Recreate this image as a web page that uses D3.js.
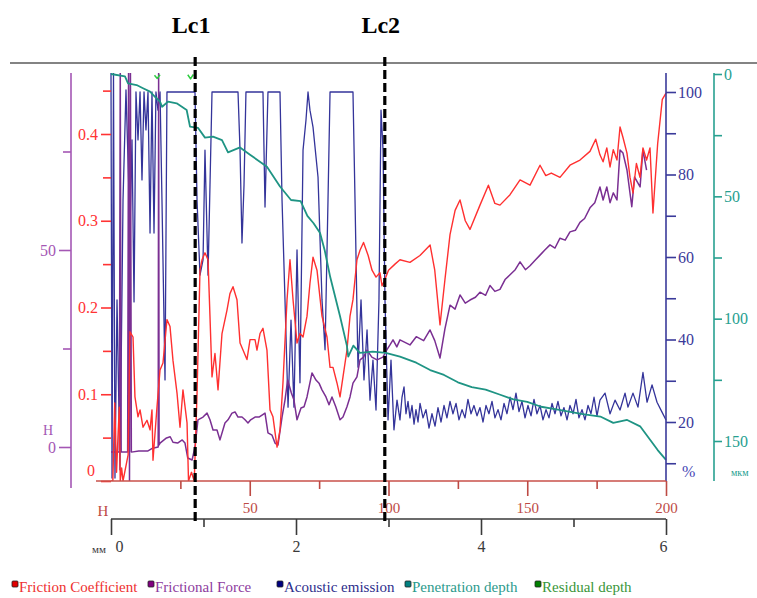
<!DOCTYPE html>
<html>
<head>
<meta charset="utf-8">
<script src="https://cdn.jsdelivr.net/npm/d3@7"></script>
<style>
  body { margin: 0; background: #fff; }
  svg text { font-family: "Liberation Serif", "Times New Roman", serif; }
</style>
</head>
<body>
<div id="chart"></div>
<script>
// ---- data (x in mm along the scratch) ----
const frictionCoef = [
  [0, 0], [0.02, 0], [0.04, 0.09], [0.06, 0.01], [0.075, 0.05], [0.09, 0.085], [0.1, 0], [0.115, 0.015],
  [0.13, 0], [0.185, 0.03], [0.205, 0.172], [0.238, 0.166], [0.259, 0.097], [0.292, 0.074], [0.314, 0.082],
  [0.346, 0.062], [0.389, 0.07], [0.422, 0.059], [0.443, 0.082], [0.454, 0.024], [0.497, 0.085], [0.53, 0.128],
  [0.562, 0.136], [0.605, 0.186], [0.638, 0.178], [0.67, 0.139], [0.714, 0.101], [0.746, 0.062], [0.778, 0.105],
  [0.822, 0.067], [0.838, 0], [0.87, 0.01], [0.9, 0], [0.93, 0.1], [0.962, 0.243], [0.984, 0.255], [1.016, 0.263],
  [1.049, 0.255], [1.07, 0.19], [1.092, 0.12], [1.124, 0.147], [1.157, 0.105], [1.2, 0.17], [1.254, 0.197],
  [1.286, 0.216], [1.319, 0.224], [1.362, 0.209], [1.395, 0.159], [1.427, 0.151], [1.47, 0.14], [1.503, 0.163],
  [1.557, 0.163], [1.578, 0.151], [1.611, 0.17], [1.643, 0.176], [1.686, 0.151], [1.719, 0.082], [1.751, 0.074],
  [1.795, 0.039], [1.827, 0.059], [1.859, 0.113], [1.903, 0.209], [1.935, 0.255], [1.968, 0.209], [2.011, 0.159],
  [2.043, 0.17], [2.076, 0.166], [2.119, 0.19], [2.151, 0.228], [2.184, 0.258], [2.227, 0.243], [2.281, 0.19],
  [2.335, 0.166], [2.368, 0.131], [2.4, 0.131], [2.443, 0.113], [2.476, 0.097], [2.508, 0.12], [2.551, 0.151],
  [2.584, 0.19], [2.616, 0.209], [2.659, 0.255], [2.692, 0.266], [2.73, 0.275], [2.78, 0.26], [2.822, 0.243],
  [2.865, 0.235], [2.908, 0.24], [2.93, 0.225], [2.96, 0.232], [3.0, 0.243], [3.07, 0.25], [3.124, 0.255],
  [3.232, 0.252], [3.34, 0.26], [3.45, 0.272], [3.5, 0.243], [3.557, 0.18], [3.61, 0.232], [3.665, 0.284],
  [3.72, 0.312], [3.773, 0.324], [3.83, 0.3], [3.881, 0.29], [3.989, 0.318], [4.08, 0.341], [4.15, 0.32],
  [4.205, 0.318], [4.314, 0.33], [4.422, 0.347], [4.53, 0.341], [4.638, 0.364], [4.7, 0.352], [4.76, 0.355],
  [4.854, 0.35], [4.962, 0.364], [5.07, 0.37], [5.178, 0.38], [5.24, 0.394], [5.286, 0.376], [5.32, 0.368],
  [5.36, 0.384], [5.395, 0.362], [5.43, 0.382], [5.47, 0.37], [5.503, 0.408], [5.535, 0.396], [5.578, 0.378],
  [5.611, 0.35], [5.643, 0.332], [5.68, 0.366], [5.719, 0.35], [5.751, 0.384], [5.79, 0.37], [5.827, 0.384],
  [5.859, 0.309], [5.91, 0.389], [5.96, 0.44], [6.0, 0.447]
];

const frictionForce = [
  [0, -1.3], [0.09, -1.3], [0.1, 97], [0.11, -1.3], [0.18, -1.3], [0.19, 97], [0.2, -9], [0.21, 97], [0.22, -1.3],
  [0.3, -1], [0.4, -1], [0.45, -0.3], [0.51, 0], [0.515, 97], [0.52, 0.5], [0.53, 1], [0.6, 2.3], [0.64, 2.6],
  [0.67, 1.2], [0.72, 1], [0.77, 1.8], [0.8, 1], [0.83, -2.8], [0.877, -3.3], [0.908, 0], [0.94, 6.9],
  [0.995, 7.6], [1.038, 8.6], [1.07, 6.9], [1.103, 4.3], [1.146, 4.3], [1.178, 1.8], [1.232, 6.1], [1.265, 6.9],
  [1.308, 8.6], [1.341, 8.9], [1.373, 7.6], [1.416, 7.6], [1.449, 6.9], [1.481, 6.1], [1.51, 6.9], [1.557, 7.6],
  [1.6, 7.6], [1.633, 8.1], [1.665, 8.6], [1.697, 3.6], [1.741, 3], [1.773, 1], [1.805, 0.5], [1.849, 7.6],
  [1.881, 11.9], [1.91, 17], [1.95, 13.7], [1.978, 11.9], [2.011, 6.9], [2.054, 9.9], [2.087, 10.2],
  [2.119, 12.7], [2.173, 18.8], [2.216, 17], [2.249, 16.2], [2.281, 14.5], [2.324, 12.7], [2.357, 10.7],
  [2.389, 12.7], [2.43, 10.2], [2.476, 6.9], [2.508, 7.6], [2.551, 10.2], [2.584, 12.7], [2.616, 16.2],
  [2.659, 17.8], [2.692, 22.1], [2.73, 22.8], [2.768, 24.6], [2.82, 22.8], [2.876, 22.1], [2.94, 22.8],
  [2.98, 24.6], [3.016, 25.9], [3.049, 27.2], [3.09, 25.4], [3.124, 27.2], [3.232, 25.9], [3.3, 28],
  [3.38, 27], [3.449, 29.7], [3.5, 27], [3.557, 22.6], [3.61, 30], [3.665, 36], [3.72, 35], [3.773, 38.6],
  [3.83, 36.5], [3.881, 37.3], [3.94, 38], [3.989, 39.3], [4.05, 38.5], [4.097, 41], [4.15, 39.5], [4.205, 40],
  [4.26, 42.5], [4.314, 43.7], [4.37, 45], [4.422, 47], [4.48, 45], [4.53, 46], [4.59, 47.5], [4.638, 48.7],
  [4.69, 50], [4.746, 51.3], [4.8, 50.5], [4.854, 53], [4.91, 52.5], [4.962, 54.6], [5.02, 55], [5.07, 57],
  [5.12, 58], [5.178, 60.7], [5.23, 62], [5.286, 66], [5.32, 62.7], [5.36, 66], [5.395, 62], [5.43, 64.5],
  [5.47, 62.7], [5.503, 75.4], [5.535, 74.6], [5.578, 70.3], [5.63, 61], [5.66, 68.5], [5.72, 66],
  [5.75, 75.4], [5.79, 70.3]
];

const acousticEmission = [
  [0, 104.6], [0.011, 6.4], [0.027, 104.6], [0.043, 6.4], [0.065, 49.6], [0.097, 8.4], [0.13, 73.8],
  [0.162, 100.5], [0.184, 83.5], [0.205, 66.5], [0.227, 88.4], [0.249, 49.1], [0.27, 100], [0.292, 88.4],
  [0.314, 100], [0.335, 78.7], [0.357, 100], [0.378, 90.8], [0.4, 100], [0.422, 65.8], [0.443, 100],
  [0.465, 65.8], [0.486, 100], [0.508, 95.6], [0.53, 100], [0.551, 73.8], [0.584, 30.2], [0.605, 100],
  [0.908, 100], [0.93, 73.8], [0.962, 55.6], [0.995, 59.3], [1.016, 85.9], [1.049, 55.6], [1.092, 100],
  [1.373, 100], [1.395, 85.9], [1.416, 63.4], [1.438, 77.5], [1.459, 100], [1.643, 100], [1.665, 72.1],
  [1.697, 100], [1.827, 100], [1.849, 73.8], [1.881, 49.6], [1.914, 23.6], [1.946, 44.7], [1.978, 23.6],
  [2.011, 61.7], [2.043, 29.5], [2.076, 85.9], [2.108, 93.2], [2.13, 100], [2.151, 95.6], [2.184, 91.5],
  [2.238, 79.4], [2.281, 49.6], [2.314, 37.5], [2.346, 73.8], [2.368, 100], [2.616, 100], [2.638, 73.8],
  [2.67, 33.3], [2.703, 49.6], [2.735, 30.2], [2.768, 42.3], [2.8, 25.3], [2.832, 35], [2.865, 22.9],
  [2.897, 49.6], [2.919, 95.6], [2.941, 85.9], [2.962, 49.6], [2.995, 20.5], [3.027, 35], [3.059, 18.1],
  [3.092, 25.3], [3.124, 20.5], [3.146, 26], [3.168, 28.5], [3.189, 22], [3.211, 25], [3.232, 21],
  [3.254, 24], [3.276, 19.5], [3.297, 23], [3.319, 20], [3.341, 24.5], [3.373, 21], [3.405, 23],
  [3.438, 18.5], [3.47, 22], [3.503, 19], [3.535, 23.5], [3.568, 20], [3.6, 24], [3.632, 21], [3.665, 25],
  [3.697, 22], [3.73, 24.5], [3.762, 20.5], [3.795, 23], [3.827, 21], [3.859, 25.5], [3.892, 22], [3.924, 24],
  [3.957, 21.5], [3.989, 23.5], [4.022, 20], [4.054, 24], [4.086, 22], [4.119, 25], [4.151, 21], [4.184, 23],
  [4.216, 20.5], [4.249, 24.5], [4.281, 22], [4.314, 26], [4.346, 23], [4.378, 27], [4.411, 22.5],
  [4.443, 25], [4.476, 21], [4.508, 24], [4.541, 21.5], [4.573, 25.5], [4.605, 22], [4.638, 24],
  [4.67, 20.5], [4.703, 23], [4.735, 21], [4.768, 24.5], [4.8, 22], [4.832, 25], [4.865, 21.5], [4.897, 23.5],
  [4.93, 20.5], [4.962, 24], [4.995, 22], [5.027, 25.5], [5.059, 21], [5.092, 23], [5.124, 20.5],
  [5.157, 24], [5.189, 22], [5.222, 26], [5.254, 21.5], [5.286, 25.3], [5.341, 27], [5.395, 22],
  [5.449, 25.3], [5.503, 22.9], [5.557, 27], [5.589, 23.6], [5.643, 27], [5.697, 23.6], [5.751, 32],
  [5.795, 24.8], [5.849, 29], [5.903, 24.8], [5.957, 22.4], [6.0, 20.5]
];

const penetrationDepth = [
  [0, 0], [0.151, 1], [0.184, 3.8], [0.277, 4.5], [0.346, 5.8], [0.422, 7.2], [0.476, 9.3], [0.53, 11.3],
  [0.553, 13.4], [0.616, 11.3], [0.71, 12], [0.818, 14.7], [0.854, 21.5], [0.94, 22], [1.016, 26],
  [1.103, 25.6], [1.2, 27], [1.265, 32], [1.395, 30], [1.503, 33], [1.686, 37.9], [1.827, 46], [1.946, 51.5],
  [2.05, 52], [2.123, 58], [2.19, 61], [2.26, 65], [2.31, 72], [2.37, 83], [2.476, 99], [2.55, 111],
  [2.565, 115.5], [2.62, 111], [2.69, 114], [2.83, 113.5], [2.97, 114], [3.124, 115.5], [3.3, 118],
  [3.45, 121], [3.6, 123], [3.75, 126], [3.9, 128], [4.05, 129], [4.2, 131], [4.35, 133], [4.5, 134],
  [4.65, 136], [4.8, 137], [4.95, 138], [5.1, 139], [5.29, 140], [5.43, 142.6], [5.58, 141.4], [5.72, 144],
  [5.83, 149.6], [5.91, 153.7], [6.0, 157.7]
];

const residualDepth = [
  [[0.47, 0.5], [0.5, 1.8], [0.53, 0.3]],
  [[0.83, 0.3], [0.86, 2], [0.89, 0.2]]
];

const criticalLoads = [{ name: "Lc1", mm: 0.91 }, { name: "Lc2", mm: 2.96 }];

const coefTicks = [0, 0.1, 0.2, 0.3, 0.4], coefMinor = [0.05, 0.15, 0.25, 0.35, 0.45];
const forceTicks = [0, 50], forceMinor = [25, 75];
const aeTicks = [20, 40, 60, 80, 100], aeMinor = [10, 30, 50, 70, 90];
const depthTicks = [0, 50, 100, 150], depthMinor = [25, 75, 125];
const loadTicks = [50, 100, 150, 200], loadMinor = [25, 75, 125, 175];
const mmTicks = [0, 2, 4, 6], mmMinor = [1, 3, 5];

const legendItems = [
  { name: "Friction Coefficient", fill: "#e00000", text: "#ee3030" },
  { name: "Frictional Force", fill: "#800080", text: "#8e3c9e" },
  { name: "Acoustic emission", fill: "#000080", text: "#2e2e8c" },
  { name: "Penetration depth", fill: "#008080", text: "#2b9a8c" },
  { name: "Residual depth", fill: "#008000", text: "#3a963a" }
];

// ---- layout ----
const width = 757, height = 598;
const plot = { left: 111, right: 666, top: 73, bottom: 481 };
const plain = (d) => String(d);

const svg = d3.select("#chart").append("svg")
  .attr("width", width).attr("height", height);

const x = d3.scaleLinear().domain([0, 6]).range([plot.left, plot.right]);
const xLoad = d3.scaleLinear().domain([0, 200]).range([plot.left, plot.right]);
const yCoef = d3.scaleLinear().domain([0, 0.4]).range([481, 134]);
const yForce = d3.scaleLinear().domain([0, 50]).range([447, 250]);
const yAE = d3.scaleLinear().domain([20, 100]).range([422, 92]);
const yDepth = d3.scaleLinear().domain([0, 150]).range([74, 441]);

// top rule
svg.append("line").attr("x1", 10).attr("x2", width).attr("y1", 63).attr("y2", 63)
  .attr("stroke", "#5a5a5a").attr("stroke-width", 1.6);

svg.append("clipPath").attr("id", "clip")
  .append("rect").attr("x", plot.left - 1).attr("y", plot.top)
  .attr("width", plot.right - plot.left + 2).attr("height", plot.bottom - plot.top);

const lines = svg.append("g").attr("clip-path", "url(#clip)");

const drawLine = (data, yScale, color, w) => {
  lines.append("path")
    .datum(data)
    .attr("fill", "none")
    .attr("stroke", color)
    .attr("stroke-width", w)
    .attr("stroke-linejoin", "round")
    .attr("d", d3.line().x((d) => x(d[0])).y((d) => yScale(d[1])));
};

drawLine(acousticEmission, yAE, "#34349a", 1.3);
drawLine(frictionForce, yForce, "#7a2f92", 1.5);
drawLine(frictionCoef, yCoef, "#ff3030", 1.4);
drawLine(penetrationDepth, yDepth, "#1f9484", 1.8);
residualDepth.forEach((seg) => drawLine(seg, yDepth, "#2ecc40", 1.5));

// ---- axes ----
const styleAxis = (g, color, fontSize) => {
  g.select(".domain").remove();
  g.selectAll("line").attr("stroke", color).attr("stroke-width", 1.6);
  g.selectAll("text").attr("fill", color).style("font-size", fontSize + "px");
};

const vline = (xPos, y1, y2, color) =>
  svg.append("line").attr("x1", xPos).attr("x2", xPos).attr("y1", y1).attr("y2", y2)
    .attr("stroke", color).attr("stroke-width", 1.6);

// frictional force (purple, far left)
const purple = "#a457b4";
vline(71, plot.top, 488, purple);
svg.append("g").attr("transform", "translate(71,0)")
  .call(d3.axisLeft(yForce).tickValues(forceTicks).tickSize(12).tickPadding(3).tickFormat(plain))
  .call((g) => styleAxis(g, purple, 16));
svg.append("g").attr("transform", "translate(71,0)")
  .call(d3.axisLeft(yForce).tickValues(forceMinor).tickSize(8).tickFormat(""))
  .call((g) => styleAxis(g, purple, 16));
svg.append("text").attr("x", 48).attr("y", 435).attr("text-anchor", "middle")
  .attr("fill", purple).style("font-size", "14px").text("H");

// friction coefficient (red)
const red = "#ff3333";
svg.append("g").attr("transform", `translate(${plot.left},0)`)
  .call(d3.axisLeft(yCoef).tickValues(coefTicks).tickSize(10).tickPadding(3).tickFormat(plain))
  .call((g) => styleAxis(g, red, 16))
  .call((g) => g.selectAll(".tick text").filter((d) => d === 0).attr("y", -11).attr("x", -16));
svg.append("g").attr("transform", `translate(${plot.left},0)`)
  .call(d3.axisLeft(yCoef).tickValues(coefMinor).tickSize(8).tickFormat(""))
  .call((g) => styleAxis(g, red, 16));

// acoustic emission (blue, right)
const blue = "#3a3a9a";
vline(plot.right, plot.top, plot.bottom, blue);
svg.append("g").attr("transform", `translate(${plot.right},0)`)
  .call(d3.axisRight(yAE).tickValues(aeTicks).tickSize(10).tickPadding(2).tickFormat(plain))
  .call((g) => styleAxis(g, blue, 16));
svg.append("g").attr("transform", `translate(${plot.right},0)`)
  .call(d3.axisRight(yAE).tickValues(aeMinor).tickSize(10).tickFormat(""))
  .call((g) => styleAxis(g, blue, 16));
svg.append("text").attr("x", 682).attr("y", 477).attr("fill", "#4545b5")
  .style("font-size", "16px").text("%");

// penetration depth (teal, far right)
const teal = "#27a090";
vline(714, plot.top, plot.bottom, teal);
svg.append("g").attr("transform", "translate(714,0)")
  .call(d3.axisRight(yDepth).tickValues(depthTicks).tickSize(8).tickPadding(2).tickFormat(plain))
  .call((g) => styleAxis(g, teal, 16));
svg.append("g").attr("transform", "translate(714,0)")
  .call(d3.axisRight(yDepth).tickValues(depthMinor).tickSize(8).tickFormat(""))
  .call((g) => styleAxis(g, teal, 16));
svg.append("text").attr("x", 731).attr("y", 476).attr("fill", teal)
  .style("font-size", "10px").text("мкм");

// normal load (red-brown, bottom)
const brown = "#bd4a44";
svg.append("line").attr("x1", plot.left - 15).attr("x2", plot.right)
  .attr("y1", plot.bottom).attr("y2", plot.bottom)
  .attr("stroke", "#c8504a").attr("stroke-width", 1.6);
svg.append("g").attr("transform", `translate(0,${plot.bottom})`)
  .call(d3.axisBottom(xLoad).tickValues(loadTicks).tickSize(15).tickPadding(6).tickFormat(plain))
  .call((g) => styleAxis(g, brown, 15));
svg.append("g").attr("transform", `translate(0,${plot.bottom})`)
  .call(d3.axisBottom(xLoad).tickValues(loadMinor).tickSize(8).tickFormat(""))
  .call((g) => styleAxis(g, brown, 15));
svg.append("text").attr("x", 103).attr("y", 516).attr("text-anchor", "middle")
  .attr("fill", brown).style("font-size", "15px").text("H");

// distance (black, bottom)
const dark = "#3a3a3a";
svg.append("line").attr("x1", plot.left).attr("x2", plot.right).attr("y1", 519).attr("y2", 519)
  .attr("stroke", dark).attr("stroke-width", 1.6);
svg.append("g").attr("transform", "translate(0,519)")
  .call(d3.axisBottom(x).tickValues(mmTicks).tickSize(16).tickPadding(6).tickFormat(plain))
  .call((g) => styleAxis(g, dark, 16))
  .call((g) => g.selectAll(".tick text")
    .attr("text-anchor", (d) => (d === 0 ? "start" : d === 6 ? "end" : "middle"))
    .attr("x", (d) => (d === 0 ? 4 : d === 6 ? 1 : 0)));
svg.append("g").attr("transform", "translate(0,519)")
  .call(d3.axisBottom(x).tickValues(mmMinor).tickSize(8).tickFormat(""))
  .call((g) => styleAxis(g, dark, 16));
svg.append("text").attr("x", 92).attr("y", 553).attr("fill", dark)
  .style("font-size", "11px").text("мм");

// ---- critical load markers ----
const marks = svg.selectAll(".lc").data(criticalLoads).join("g").attr("class", "lc");
marks.append("line")
  .attr("x1", (d) => x(d.mm)).attr("x2", (d) => x(d.mm))
  .attr("y1", 57).attr("y2", 521)
  .attr("stroke", "#000").attr("stroke-width", 3.2).attr("stroke-dasharray", "9,4");
marks.append("text")
  .attr("x", (d) => x(d.mm) - 4).attr("y", 33)
  .attr("text-anchor", "middle")
  .style("font-size", "24px").style("font-weight", "bold")
  .text((d) => d.name);

// ---- legend ----
const legendX = [12, 148, 277, 405, 535];
const legend = svg.selectAll(".legend").data(legendItems).join("g")
  .attr("class", "legend")
  .attr("transform", (d, i) => `translate(${legendX[i]},581)`);
legend.append("rect").attr("width", 6).attr("height", 6).attr("rx", 1)
  .attr("fill", (d) => d.fill).attr("stroke", "#222").attr("stroke-width", 0.8);
legend.append("text").attr("x", 7).attr("y", 11)
  .attr("fill", (d) => d.text).style("font-size", "15px")
  .text((d) => d.name);
</script>
</body>
</html>
